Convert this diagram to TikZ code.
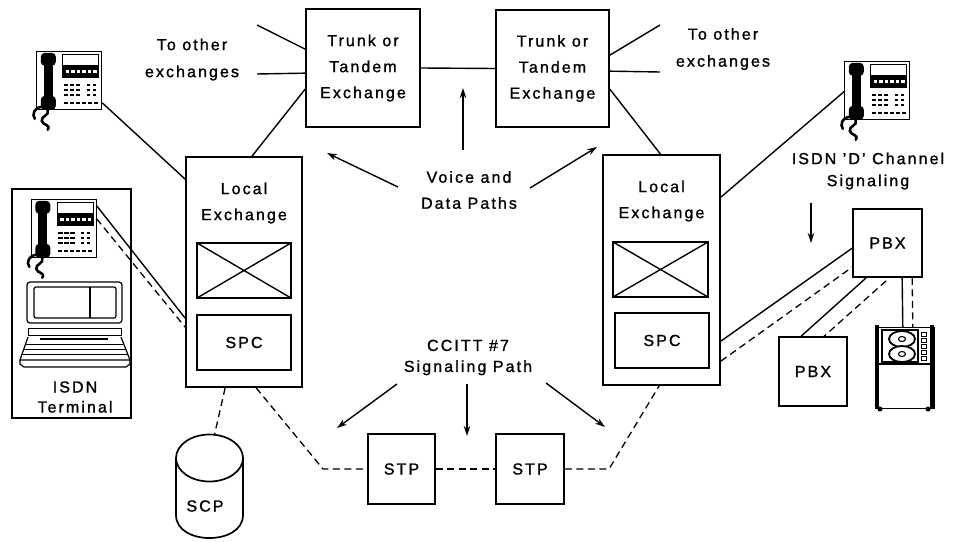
\documentclass[tikz,border=0pt]{standalone}
\usepackage{fontspec}
\setmainfont{Liberation Sans}[LetterSpace=13, FakeBold=1.2]
\usetikzlibrary{calc,arrows.meta}

\tikzset{
  every picture/.style={x=1pt,y=-1pt},
  wire/.style={line width=1.4pt},
  sig/.style={line width=1.3pt, dash pattern=on 7pt off 4.5pt},
  box/.style={draw, line width=1.7pt, inner sep=0pt},
  crossbox/.style={box, minimum width=94pt, minimum height=55pt,
    path picture={\draw[line width=1.4pt]
      (path picture bounding box.north west) -- (path picture bounding box.south east)
      (path picture bounding box.south west) -- (path picture bounding box.north east);}},
  lbl/.style={font=\fontsize{16}{26}\selectfont, align=center, inner sep=0pt},
  pointer/.style={line width=1.4pt, -{Stealth[length=10pt,width=6.5pt]}},
  phonebox/.style={minimum width=65pt, minimum height=58pt, inner sep=0pt},
  pics/deskphone/.style={code={
    % outline of the set
    \draw[line width=0.7pt] (0,0) rectangle (65,58);
    % handset
    \fill[rounded corners=4pt] (4,1) rectangle (19,14);
    \fill[rounded corners=4pt] (4,44) rectangle (19,58);
    \fill (7,8) rectangle (16,50);
    % display
    \draw[line width=0.9pt] (26,3) rectangle (62,26);
    \fill (26,13) rectangle (62,26);
    \foreach \i in {0,...,5} \fill[white] (29+\i*5.5,18) rectangle ++(3.5,3);
    % keypad
    \foreach \r in {0,1,2} {
      \foreach \c in {0,1,2} \fill (27+\c*6,32+\r*5) rectangle ++(4.5,2.4);
      \foreach \c in {0,1} \fill (50+\c*6,32+\r*5) rectangle ++(3,2.4);
    }
    \foreach \c in {0,...,5} \fill (27+\c*6,50) rectangle ++(4,2);
    % coiled cord
    \draw[line width=2.6pt, line cap=round] (6,55) .. controls (-3,55) and (-5,63) .. (-2,67);
    \draw[line width=2.6pt, line cap=round] (11,58) .. controls (13,64) and (4,64) .. (5,69)
      .. controls (6,74) and (14,72) .. (11,78);
  }}
}

\begin{document}
\begin{tikzpicture}
\useasboundingbox[fill=white] (0,0) rectangle (957,541);

% ---------------- exchanges ----------------
\node[box, minimum width=114pt, minimum height=118pt] (t1) at (363,68) {};
\node[lbl] at (t1) {Trunk or\\Tandem\\Exchange};
\node[box, minimum width=113pt, minimum height=117pt] (t2) at (552.5,68.5) {};
\node[lbl] at (t2) {Trunk or\\Tandem\\Exchange};

\node[box, minimum width=116pt, minimum height=230pt] (le1) at (244,272) {};
\node[lbl] at (244,203) {Local\\Exchange};
\node[crossbox] (sw1) at (244,270.5) {};
\node[box, minimum width=94pt, minimum height=55pt, lbl] (spc1) at (244,342.5) {SPC};

\node[box, minimum width=117pt, minimum height=230pt] (le2) at (661.5,270) {};
\node[lbl] at (661.5,201) {Local\\Exchange};
\node[crossbox, minimum width=95pt] (sw2) at (660.5,269.5) {};
\node[box, minimum width=94pt, minimum height=55pt, lbl] (spc2) at (662,340.5) {SPC};

% ---------------- signalling points ----------------
\node[box, minimum width=67pt, minimum height=70pt, lbl] (stp1) at (401.5,469) {STP};
\node[box, minimum width=68pt, minimum height=70pt, lbl] (stp2) at (530,469) {STP};

% ---------------- PBXs ----------------
\node[box, minimum width=69pt, minimum height=68pt, lbl] (pbx1) at (887.5,243) {PBX};
\node[box, minimum width=68pt, minimum height=69pt, lbl] (pbx2) at (813,371.5) {PBX};

% ---------------- ISDN terminal ----------------
\node[box, minimum width=119pt, minimum height=229pt] (term) at (71.5,303.5) {};
\node[lbl, font=\fontsize{16}{20}\selectfont] at (75,397) {ISDN\\Terminal};

% ---------------- telephones ----------------
\node[phonebox] (ph1) at (69.5,81) {};
\pic at (ph1.north west) {deskphone};
\node[phonebox] (ph2) at (64,229) {};
\pic at (ph2.north west) {deskphone};
\node[phonebox] (ph3) at (877.5,91) {};
\pic at (ph3.north west) {deskphone};

% laptop
\draw[line width=1.2pt, rounded corners=3pt] (27,282) rectangle (122,323);
\draw[line width=1.2pt, rounded corners=2pt] (34,287) rectangle (116,318);
\draw[line width=1.6pt] (90,287) -- (90,318);
\draw[line width=0.9pt] (28,328) rectangle (121,335);
\draw[line width=2pt] (40,339) -- (108,339);
\draw[line width=1.2pt] (28,337) -- (20,360) -- (130,360) -- (121,337);
\draw[line width=1.2pt] (20,360) -- (20,364) -- (24,367) -- (126,367) -- (130,364) -- (130,360);
\draw[line width=0.7pt] (26,344) -- (123,344) (24,349) -- (126,349) (22,354) -- (128,354);

% ---------------- tape unit ----------------
\node[minimum width=60pt, minimum height=82pt, inner sep=0pt] (tape) at (905,368) {};
\draw[line width=0.9pt] (876,327) rectangle (934,408);
\fill (875,325) rectangle (879,409);
\fill (930,325) rectangle (934,409);
\draw[line width=1.6pt] (879,364) -- (930,364);
\draw[line width=1.4pt] (882,330) rectangle (918,362);
\draw[line width=1.8pt, fill=white] (902,339) ellipse [x radius=13, y radius=8];
\draw[line width=1.8pt, fill=white] (902,354) ellipse [x radius=13, y radius=8];
\draw[line width=1.1pt] (902,339) ellipse [x radius=3.5, y radius=2.5];
\draw[line width=1.1pt] (902,354) ellipse [x radius=3.5, y radius=2.5];
\foreach \yy in {332,338,344,350,356} \draw[line width=0.9pt] (921,\yy) rectangle ++(5,4);
\fill (880,409) circle (2.5);
\fill (928,409) circle (2.5);

% ---------------- SCP database ----------------
\node[minimum width=67pt, minimum height=103pt, inner sep=0pt] (scp) at (209.5,486.5) {};
\draw[line width=1.7pt] (209.5,458) ellipse [x radius=33.5, y radius=23.5];
\draw[line width=1.7pt] (176,458) -- (176,515) .. controls (176,545.7) and (243,545.7) .. (243,515) -- (243,458);
\node[lbl] at (205,506) {SCP};

% ---------------- trunk connections ----------------
\coordinate (e1) at (257,25);
\coordinate (e2) at (257,74);
\coordinate (e3) at (660,25);
\coordinate (e4) at (660,72);
\draw[wire] (t1.east) -- (t2.west);
\draw[wire] (e1) -- ($(t1.north west)+(0,41)$);
\draw[wire] (e2) -- ($(t1.north west)+(0,65)$);
\draw[wire] ($(t1.north west)+(0,81)$) -- ($(le1.north)+(8,0)$);
\draw[wire] ($(t2.north east)+(0,46)$) -- (e3);
\draw[wire] ($(t2.north east)+(0,62)$) -- (e4);
\draw[wire] ($(t2.north east)+(0,80)$) -- ($(le2.north)+(-1,0)$);

\node[lbl, font=\fontsize{16}{27}\selectfont] at (192,59.5) {To other\\exchanges};
\node[lbl, font=\fontsize{16}{27}\selectfont] at (723,49) {To other\\exchanges};

% ---------------- subscriber lines ----------------
\draw[wire] ($(ph1.north east)+(0,51)$) -- ($(le1.north west)+(0,23)$);
\draw[wire] ($(ph2.north east)+(0,6)$) -- ($(le1.north west)+(0,162)$);
\draw[sig] ($(ph2.north east)+(0,19)$) -- ($(le1.north west)+(0,171)$);
\draw[wire] ($(le2.north east)+(0,43)$) -- (ph3.west);
\draw[wire] ($(le2.north east)+(0,187)$) -- ($(pbx1.north west)+(0,40)$);
\draw[sig] ($(le2.north east)+(0,207)$) -- ($(pbx1.north west)+(0,59)$);
\draw[wire] ($(pbx1.south west)+(14,0)$) -- ($(pbx2.north west)+(23,0)$);
\draw[sig] ($(pbx1.south west)+(34,3)$) -- ($(pbx2.north west)+(46,0)$);
\draw[wire] ($(pbx1.south west)+(50,0)$) -- ($(tape.north west)+(28,0)$);
\draw[sig] ($(pbx1.south west)+(60,0)$) -- ($(tape.north west)+(38,0)$);

% ---------------- CCITT #7 signalling network ----------------
\coordinate (k1) at (323,469);
\coordinate (k2) at (609,469);
\draw[sig] ($(le1.south west)+(40,0)$) -- ($(scp.north)+(5,0)$);
\draw[sig] ($(le1.south west)+(71,0)$) -- (k1) -- (stp1.west);
\draw[sig] (stp1.east) -- (stp2.west);
\draw[sig] (stp2.east) -- (k2) -- ($(le2.south west)+(57,0)$);

% ---------------- labels with pointers ----------------
\node[lbl] (vd) at (469,190) {Voice and\\Data Paths};
\draw[pointer] (398,187) -- (327,153);
\draw[pointer] (463,150) -- (463,88);
\draw[pointer] (530,188) -- (597,147);

\node[lbl, font=\fontsize{16}{21}\selectfont] (cc) at (468,357.5) {CCITT \#7\\Signaling Path};
\draw[pointer] (397,384) -- (337,428);
\draw[pointer] (467,384) -- (467,436);
\draw[pointer] (546,383) -- (605,427);

\node[lbl, font=\fontsize{16}{22}\selectfont] (dch) at (868,171) {ISDN 'D' Channel\\Signaling};
\draw[pointer] (811,203) -- (811,243);
\end{tikzpicture}
\end{document}
